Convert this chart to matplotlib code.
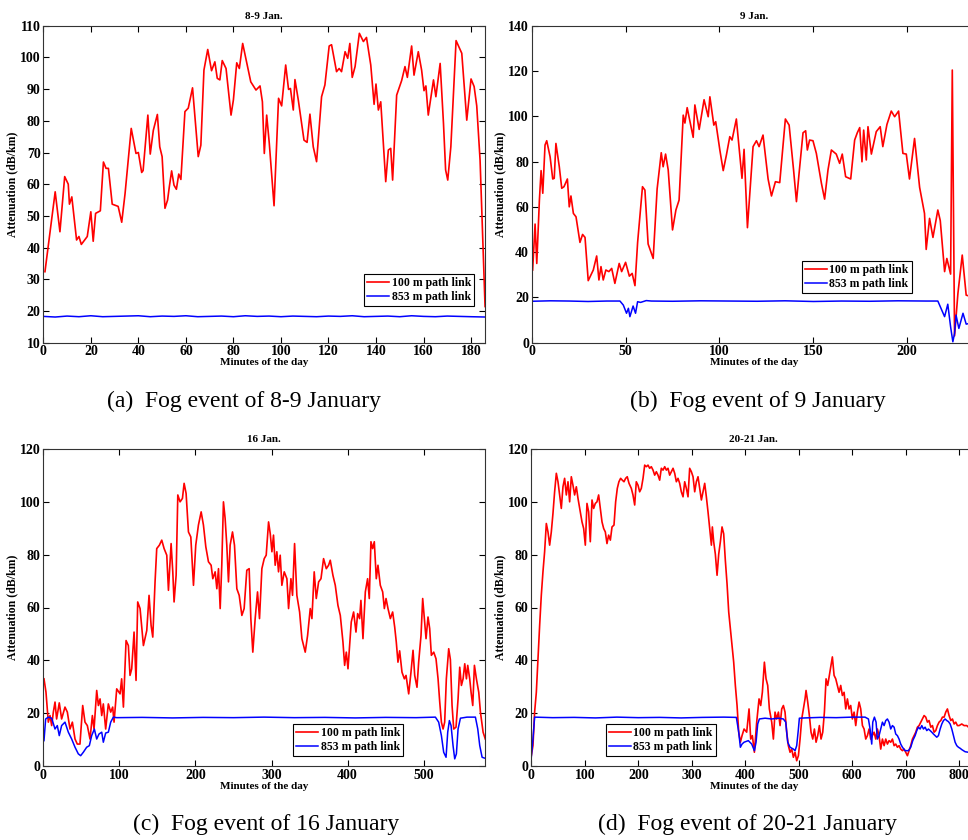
import matplotlib
matplotlib.use("Agg")
import matplotlib.pyplot as plt

# ---- (a) 8-9 Jan. ----
ta_100 = [0.7, 5, 7, 9, 10.5, 11, 12, 14, 15, 16, 18.5, 20, 21, 22, 24, 25.3, 26.4, 27.4, 29, 31.5,
          33, 34.4, 37, 39, 40, 41.4, 42, 44, 45, 46.3, 48, 49, 50, 51.2, 52.3, 53, 54, 55, 56, 57,
          57.9, 59.6, 61, 62.8, 65.2, 66.3, 67.6, 69.2, 70.8, 72.2, 73.2, 74.3, 75.3, 76.9, 79, 80,
          81.4, 82.5, 83.9, 87.3, 89.5, 91.2, 92.2, 93, 94, 95.1, 97.1, 99, 100.3, 102, 103.2, 104,
          105.2, 105.9, 107.3, 109.7, 111, 112.2, 113.6, 115, 117.1, 118.5, 120.3, 121.3, 123.4,
          124.5, 125.5, 127, 128.1, 129, 130, 131.2, 133, 134.7, 136, 137.8, 139.2, 140, 141, 142,
          144.1, 145.2, 146.2, 147, 148.7, 150.8, 152.2, 153.2, 155, 156, 157.8, 159.2, 160.2, 161,
          162, 164.2, 165.2, 167, 168.4, 169.3, 170.2, 171.5, 173.7, 176.1, 178.2, 180, 181.3,
          182.4, 183.8, 185.9]
ya_100 = [32.4, 57.6, 45, 62.4, 60, 53.7, 56, 42.4, 43.5, 41, 43.5, 51.3, 42, 50.8, 51.6, 67, 65, 65,
          53.7, 53, 48, 57, 77.6, 69.7, 70, 63.7, 64.3, 81.8, 69.5, 77, 82, 71.8, 68.7, 52.4, 55, 59,
          64.2, 59.7, 58.4, 63.2, 61.5, 82.9, 84, 90.4, 68.7, 72.3, 96, 102.5, 95.8, 98.6, 93.4,
          92.9, 99, 96.5, 81.8, 86.6, 98.3, 96.5, 104.4, 92.3, 89.7, 91, 86, 69.7, 81.8, 72.9, 53.2,
          87.1, 84.7, 97.6, 89.9, 90.2, 83.4, 93, 86.6, 73.9, 73.2, 82.1, 71.8, 67.1, 87.6, 91.3,
          103.6, 104, 95.5, 96.5, 95.5, 101.8, 99.7, 104.4, 93.7, 97.1, 107.6, 105, 106.3, 97.6,
          85.2, 91.6, 83.4, 86, 60.8, 70.8, 71.3, 61.3, 88.1, 92.7, 97.1, 93.7, 103.6, 94.4, 101.8,
          96, 89.5, 91, 81.8, 92.9, 87.6, 98.1, 79.2, 64.5, 61.3, 71.8, 105.3, 101.3, 80.2, 93.2,
          90.8, 84.7, 67.6, 21.4]
ta_853 = [0, 5, 10, 15, 20, 25, 30, 35, 40, 45, 50, 55, 60, 65, 70, 75, 80, 85, 90, 95, 100, 105,
          110, 115, 120, 125, 130, 135, 140, 145, 150, 155, 160, 165, 170, 175, 180, 186]
ya_853 = [18.3, 18.1, 18.4, 18.2, 18.5, 18.2, 18.3, 18.4, 18.5, 18.2, 18.4, 18.3, 18.5, 18.2,
          18.3, 18.4, 18.2, 18.5, 18.3, 18.4, 18.2, 18.4, 18.3, 18.2, 18.4, 18.3, 18.5, 18.2,
          18.3, 18.4, 18.2, 18.5, 18.3, 18.2, 18.4, 18.3, 18.2, 18.1]

# ---- (b) 9 Jan. ----
tb_100 = [0.5, 1.8, 2.7, 4.1, 5, 5.9, 7.1, 8, 9.8, 11.2, 12, 12.9, 14.7, 16, 17.2, 19, 20, 20.9,
          22.2, 23.6, 25.7, 27.1, 28.4, 30.1, 32.8, 34.6, 35.8, 36.9, 38.1, 39.5, 41.1, 42.6,
          44.3, 46.6, 47.9, 50, 52, 53.5, 55, 56.4, 59, 60.3, 62, 64.7, 66.8, 69, 70, 71.3, 72.7,
          75, 76.8, 78.5, 80.7, 81.6, 82.8, 86, 86.9, 89.2, 91.8, 94, 94.9, 97, 98, 100.2, 102,
          103.7, 105.5, 106.7, 109, 112, 113.1, 114.9, 117.9, 119.7, 121.1, 123.2, 125.9, 127.7,
          129.8, 132.1, 135.1, 137.1, 139.5, 141, 142.4, 144.5, 145.9, 146.8, 148, 149.8, 151.6,
          154.3, 156, 157.8, 159.6, 162.2, 164, 165.4, 167.2, 169.9, 172, 173.4, 174.7, 175.9,
          176.8, 178.2, 179.1, 180.9, 183.5, 185.6, 187, 189.2, 191.5, 193.3, 195.4, 197.7, 199.5,
          201.2, 203.9, 206.6, 209.2, 210.1, 211.9, 213.7, 216.3, 217.6, 219.9, 221.1, 223.1, 224,
          225.2, 227, 229.3, 231.4, 233]
yb_100 = [32.1, 52.4, 35, 63, 76, 66, 87.3, 89.2, 82.1, 72.3, 72.6, 88, 77.7, 68.2, 68.9, 72.3,
          60, 64.8, 57.1, 55.6, 44.3, 47.8, 46.5, 27.4, 32.1, 38.3, 27.7, 33.6, 27.7, 32.1, 31.4,
          32.8, 26.2, 35, 31.4, 35.5, 29.4, 30.6, 25.2, 44.2, 68.9, 67.4, 43.6, 37.2, 67.9, 83.9,
          77.7, 83.3, 76.3, 49.8, 58.6, 63, 100.5, 97, 103.8, 90.7, 105, 94.2, 107.3, 99.8, 108.6,
          96.1, 97.6, 85.1, 76, 82.9, 91, 89.5, 98.8, 72.6, 85.4, 50.8, 86.6, 89.2, 86.6, 91.7,
          72.3, 64.8, 71.1, 70.7, 98.8, 96.1, 76, 62.3, 74.8, 92.7, 93.6, 85.1, 89.5, 89.2, 83.6,
          70.4, 63.4, 76.3, 85.1, 83.3, 79.2, 83.3, 73.3, 72.3, 89.5, 92.7, 95, 79.9, 93.9, 80.7,
          95.4, 83.3, 93.2, 95.4, 86.6, 96.4, 102.3, 99.8, 102.3, 83.6, 83.3, 72.3, 90.2, 68.6,
          57.1, 41.2, 54.9, 46.5, 58.6, 53.9, 31.4, 37.2, 30.3, 120.4, 3, 21.8, 38.7, 21, 20.6]
tb_853 = [0, 10, 20, 30, 40, 47, 48.8, 50.5, 51.5, 52.3, 54, 55.3, 56.4, 58, 61, 63.7, 75, 90,
          105, 120, 135, 150, 165, 180, 195, 210, 216.3, 219.9, 221.6, 223.1, 224.3, 225.2, 226,
          227.5, 229.7, 231.4, 233]
yb_853 = [18.3, 18.5, 18.4, 18.2, 18.4, 18.4, 16.6, 13, 15.2, 11.5, 16.2, 13, 18.1, 17.8, 18.6,
          18.4, 18.3, 18.5, 18.4, 18.3, 18.5, 18.2, 18.4, 18.3, 18.5, 18.4, 18.4, 11.5, 17, 7, 0.4,
          4.1, 12.2, 6.3, 13, 8.2, 8.5]

# ---- (c) 16 Jan. ----
tc_100 = [0.9, 3.5, 6.6, 8.8, 11, 13.2, 15.4, 17.5, 21, 24.1, 28.5, 31.6, 35.1, 38.2, 41.7, 44.7,
          48.2, 51.8, 54.8, 57.9, 61.4, 64.5, 66.7, 70.2, 72.4, 74.6, 76.8, 78.9, 82, 85.5, 88.6,
          91.2, 93, 96.5, 100.9, 103, 105.3, 108.8, 111.8, 114, 116.2, 119.3, 121.9, 124.1, 127.2,
          131.6, 136, 139, 141.7, 143.9, 146.9, 149.1, 152.6, 155.7, 158.8, 162.3, 164.5, 168,
          170.2, 171.9, 174.6, 176.8, 179.8, 182.9, 185.1, 187.7, 190.8, 193.9, 197.4, 200.4,
          203.9, 207.5, 210.5, 213.6, 217.1, 220.6, 222.8, 225.9, 228.1, 230.3, 232.5, 234.6,
          236.8, 239, 241.2, 243.4, 245.6, 248.7, 251.3, 254.4, 257.5, 261, 264, 267.5, 270.6,
          272.8, 275.4, 278.5, 281.6, 284.2, 287.3, 290.4, 293, 296.1, 298.3, 300.5, 302.6, 304.8,
          307, 309.2, 311.4, 313.6, 316.7, 320.2, 322.4, 325.5, 327.6, 330.3, 333.3, 336.9, 339.9,
          344.3, 347.4, 350.9, 353.1, 356.1, 358.8, 361.9, 365, 368.4, 372, 375, 377.2, 380.7,
          383.8, 387.3, 390.4, 393.9, 396.1, 398.3, 400.5, 402.6, 404.8, 407.9, 411, 413.2, 415.8,
          417.5, 420.2, 423.3, 426.3, 428.5, 430.7, 432.9, 435.1, 437.7, 439.9, 443, 446.1, 448.3,
          450.5, 453.1, 456.2, 459.2, 461.9, 464, 466.2, 468.4, 471.5, 474.6, 476.8, 480.3, 483.3,
          486, 488.2, 491.2, 493.4, 496.5, 498.7, 500.9, 503.1, 505.7, 507.9, 510.1, 513.2, 516.2,
          518.9, 521.1, 523.3, 525.5, 527.6, 529.8, 532.9, 535.1, 537.3, 539.5, 542.5, 545.2,
          547.4, 549.6, 551.8, 554, 556.2, 557.9, 560.5, 562.3, 564.5, 566.7, 569.3, 572.4, 574.6,
          578.1, 581]
yc_100 = [33, 28, 16.6, 19.1, 15.3, 20.4, 24.2, 17.8, 23.9, 17.8, 22.3, 20.4, 14, 16.6, 10.2, 8.3,
          8.3, 22.9, 16.6, 15.3, 10.2, 19.1, 14, 28.6, 22.9, 25.4, 19.1, 23.5, 14, 23.5, 20.4, 22.3,
          16.6, 29.2, 27.3, 33, 22.3, 47.5, 45.6, 34.3, 36.8, 50.7, 32.4, 62.1, 59.6, 45.6, 51.3,
          64.6, 53.2, 48.8, 69.7, 82.3, 83.6, 85.5, 82.3, 79.8, 66.5, 84.2, 73.5, 62.1, 72.2, 102.6,
          100, 101.3, 107, 103.2, 88.6, 86.7, 68.4, 83.6, 91.2, 96.2, 91.2, 83, 77.3, 76, 70.9, 73.5,
          67.1, 74.7, 59.6, 76, 100, 93.7, 83.6, 69.7, 83.6, 88.6, 83.6, 67.1, 64.6, 57, 59.6, 74.1,
          74.7, 55.8, 43.1, 55.8, 65.9, 55.8, 74.7, 78.5, 79.8, 92.4, 88, 81.1, 87.4, 76, 81.1,
          73.5, 79.8, 68.4, 73.5, 70.9, 59.6, 70.9, 64.6, 84.2, 64.6, 58.3, 48.2, 43.1, 49.4, 59.6,
          55.8, 73.5, 63.4, 69.7, 70.9, 78.5, 74.7, 76, 77.9, 72.2, 68.4, 60.8, 57, 46.9, 38.1,
          43.1, 36.8, 45.6, 54.5, 58.3, 50.7, 57.7, 55.8, 62.7, 48.2, 65.9, 70.9, 63.4, 84.9, 82.3,
          84.9, 70.9, 76, 68.4, 65.9, 59.6, 63.4, 59.6, 55.8, 58.3, 52.6, 46.9, 39.3, 43.6, 35.5, 33,
          34.3, 27.3, 35.5, 43.8, 34.3, 29.8, 39.3, 49.4, 63.4, 55.8, 48.2, 56.4, 52, 41.9, 43.1,
          40.6, 33, 24.2, 16.6, 14, 16.6, 33, 44.4, 40.3, 22.9, 14, 14.7, 25.4, 37.4, 30.5, 33,
          38.7, 33, 38.1, 33, 27.9, 22.9, 38.1, 33, 27.9, 20.4, 12.8, 10.2]
tc_853 = [0.9, 3.1, 6.6, 11, 15.4, 18.4, 21, 24.1, 28.5, 32.9, 37.3, 41.7, 46, 49.1, 52.6, 57, 60.5,
          63.6, 67.1, 70.2, 73.2, 76.8, 78.9, 82, 85.5, 88.6, 92.1, 96.5, 130, 170, 210, 250, 290,
          330, 370, 410, 450, 490, 515.4, 519.7, 523.3, 526.3, 529.4, 531.6, 533.8, 536, 538.6,
          540.8, 543, 545.2, 548.3, 557, 568, 571.1, 573.7, 576.8, 581]
yc_853 = [9.6, 17.8, 18.5, 18.1, 14, 15.3, 11.5, 15.3, 16.6, 12.8, 10.2, 7.1, 4.6, 3.9, 5.2, 7.1,
          7.7, 11.5, 14, 10.2, 12.1, 12.8, 9, 12.5, 12.8, 16.6, 18.5, 18.3, 18.4, 18.2, 18.4, 18.3,
          18.5, 18.3, 18.4, 18.2, 18.4, 18.3, 18.5, 16.6, 11.5, 5.2, 3.3, 12.8, 17.2, 15.3, 7.7,
          2.7, 4.6, 14, 18.1, 18.5, 18.5, 14, 7.7, 3.3, 2.9]

# ---- (d) 20-21 Jan. ----
td_100 = [0, 3.1, 6.2, 9.4, 12.5, 15.6, 18.7, 21.8, 24.9, 28.1, 31.2, 34.3, 37.4, 40.5, 43.6, 46.8,
          49.9, 53, 56.1, 59.2, 62.3, 65.5, 68.6, 71.7, 74.8, 77.9, 81, 84.2, 87.3, 91.6, 94.8, 97.9,
          101, 104.1, 107.2, 110.3, 113.5, 116.6, 119.7, 122.8, 125.9, 129, 132.2, 135.3, 138.4,
          141.5, 144.6, 147.8, 150.9, 154.6, 157.7, 160.8, 163.8, 167, 170.2, 173.3, 176.4, 179.4,
          182.7, 187, 190.1, 193.3, 196.3, 199.5, 202.6, 205.7, 208.9, 212, 215.1, 218.2, 221.3,
          224.4, 227.6, 230.7, 233.8, 236.9, 240, 243.1, 246.3, 249.4, 252.5, 255.6, 258.7, 261.8,
          265, 268.1, 271.2, 274.3, 277.4, 280.5, 283.7, 286.8, 289.9, 293, 296.1, 299.3, 302.4,
          305.5, 308.6, 311.7, 314.8, 318, 321.1, 324.2, 327.3, 330.4, 333.5, 336.7, 338.5, 341,
          344.1, 347.3, 350.4, 353.5, 356.6, 359.7, 362.8, 366, 369.1, 372.2, 375.3, 378.4, 381.5,
          384.7, 387.8, 390.9, 394, 397.8, 402.7, 407.1, 410.2, 413.3, 417.1, 421.4, 425.8, 428.9,
          432, 435.8, 438.9, 442, 445.1, 449.5, 452.6, 455.7, 458.8, 462, 465.1, 468.2, 471.3,
          474.4, 477.5, 480.6, 483.8, 486.9, 490, 493.1, 496.2, 499.4, 502.5, 505.6, 508.7, 511.8,
          513.7, 516.8, 519.9, 523, 526.2, 529.3, 532.4, 535.5, 538.6, 541.7, 544.9, 548, 551.1,
          554.2, 557.3, 560.4, 562.9, 566.1, 569.2, 572.3, 575.4, 578.5, 581.6, 584.8, 587.9, 591,
          594.1, 597.2, 600.3, 603.5, 606.6, 609.7, 612.8, 615.9, 619.1, 622.2, 625.3, 628.4,
          631.5, 634.6, 637.8, 640.9, 644, 647.1, 650.2, 653.3, 656.5, 659.6, 662.7, 665.8, 668.9,
          672, 675.2, 678.3, 681.4, 684.5, 687.6, 690.7, 693.9, 697, 700.1, 703.2, 706.3, 709.4,
          712.6, 715.7, 718.8, 721.9, 725, 728.2, 731.3, 734.4, 737.5, 740.6, 743.7, 746.9, 750,
          753.1, 756.2, 759.3, 762.4, 765.6, 768.7, 771.8, 774.9, 778, 781.1, 784.3, 787.4, 790.5,
          793.6, 796.7, 799.8, 804.8, 809.2, 814.2, 817.3, 827]
yd_100 = [3.9, 7.7, 20.4, 27.9, 40.6, 53.2, 64.6, 73.5, 81.1, 91.8, 88.6, 83.6, 88.6, 95.6, 103.8,
          110.8, 107.6, 102.6, 97.5, 105.7, 108.9, 102.6, 107.6, 100, 109.5, 106.3, 102.6, 105.7,
          101.3, 96.2, 92.4, 89.9, 83.6, 99.4, 96.2, 84.9, 100.7, 97.5, 99.4, 100, 102.6, 97.5, 92.4,
          89.9, 88.6, 84.2, 87.4, 85.5, 90.5, 91.2, 100, 105.1, 107.6, 108.9, 108.2, 107.6, 108.9,
          109.5, 107, 105.1, 102.6, 98.8, 107.6, 106.3, 103.8, 105.1, 108.9, 113.9, 113.3, 113.9,
          112.7, 113.3, 112, 110.1, 111.4, 110.1, 108.2, 112.7, 112, 113.3, 112, 112.7, 110.1, 111.4,
          112.7, 110.8, 107.6, 108.9, 107, 103.8, 101.9, 107.6, 105.1, 101.9, 112.7, 111.4, 109.5,
          103.8, 107.6, 109.5, 105.1, 100.7, 103.8, 107, 101.9, 96.2, 89.9, 83.6, 90.5, 84.9, 80.2,
          72.2, 80.2, 84.9, 90.5, 87.9, 77.8, 68.9, 58.3, 52, 45.6, 39.3, 30.5, 22.9, 12.8, 9, 11.5,
          14, 12.8, 21.6, 10.2, 11.5, 5.2, 16.6, 25.4, 22.9, 27.9, 39.3, 33, 30.5, 21.6, 16.6, 10.2,
          20.4, 17.8, 20.4, 15.3, 21.6, 22.9, 20.4, 12.8, 7.7, 5.2, 6.4, 3.3, 5.2, 2, 3.9, 10.2, 17.8,
          21.6, 25.4, 28.6, 24.2, 19.1, 12.8, 10.2, 14, 9, 11.5, 15.3, 10.2, 12.8, 20.4, 33, 30.5,
          34.3, 38.1, 41.3, 34.3, 33, 30.5, 27.9, 30.5, 26.7, 27.9, 21.6, 25.4, 21.6, 22.9, 17.8,
          20.4, 15.3, 20.4, 24.2, 21.6, 15.3, 14, 10.2, 11.5, 14, 10.2, 11.5, 12.8, 10.2, 14, 11.5,
          6.4, 10.2, 7.7, 10.2, 8.3, 9.6, 9, 10.2, 7.7, 8.3, 7.1, 7.7, 6.4, 5.8, 6.4, 5.2, 3.9, 5.8,
          7.7, 10.2, 11.5, 12.8, 14.7, 15.3, 16.6, 17.8, 19.1, 18.5, 16.6, 17.2, 14.7, 15.3, 12.8,
          13.4, 15.3, 16.6, 17.2, 18.5, 18.5, 20.4, 21.6, 19.1, 17.2, 17.8, 15.9, 16.6, 15.3, 15.3,
          15.9, 15.3, 15.3, 14.7, 15.2]
td_853 = [0, 3.1, 6.2, 40, 80, 120, 160, 200, 240, 280, 320, 360, 383.4, 387.8, 390.9, 394, 397.8,
          405.8, 412.1, 417.1, 420.2, 423.3, 426.4, 437, 449.5, 462, 471.3, 475.7, 479.4, 483.8,
          490, 493.1, 496.2, 499.4, 501.2, 511.8, 540, 570, 600, 624, 630.3, 633.4, 636.5, 638.4,
          641.5, 644.6, 647.1, 650.2, 653.3, 656.5, 659.6, 662.7, 665.8, 668.9, 672, 675.2, 678.3,
          681.4, 684.5, 687.6, 690.7, 693.9, 698.9, 705.1, 709.4, 713.2, 717.6, 720.7, 723.8, 727,
          730.1, 733.2, 736.3, 739.4, 742.5, 745.7, 748.8, 751.9, 755, 758.1, 761.2, 764.4, 767.5,
          770.6, 773.7, 776.8, 779.9, 783.1, 786.2, 789.3, 792.4, 795.5, 798.6, 801.8, 804.9,
          811.1, 817.3, 827]
yd_853 = [3.3, 10.2, 18.5, 18.3, 18.4, 18.2, 18.5, 18.3, 18.4, 18.2, 18.4, 18.5, 18.4, 12.8, 7.1,
          8.3, 9, 9.6, 8.3, 5.8, 9, 15.9, 17.8, 18.1, 17.8, 18.1, 17.8, 16.6, 9, 7.1, 6.4, 5.8, 7.7,
          14, 18.1, 18.2, 18.4, 18.3, 18.5, 18.5, 17.8, 14, 8.3, 16.6, 18.5, 16.6, 10.2, 11.5, 14,
          16.6, 15.3, 17.2, 17.8, 16.6, 14, 15.3, 14.7, 12.1, 11.5, 10.2, 8.3, 7.1, 5.8, 5.8, 7.1,
          9.6, 11.5, 13.4, 14.7, 14, 15.3, 14, 14.7, 13.4, 14, 13.4, 12.8, 12.1, 11.5, 10.9, 11.5,
          14, 15.9, 17.2, 17.8, 17.2, 16.8, 15.9, 14, 11.5, 9, 7.7, 7.1, 6.7, 6.2, 5.4, 5.2, 4.8]

titles = ["8-9 Jan.", "9 Jan.", "16 Jan.", "20-21 Jan."]
captions = ["(a)  Fog event of 8-9 January", "(b)  Fog event of 9 January",
            "(c)  Fog event of 16 January", "(d)  Fog event of 20-21 January"]
xlims = [186, 237, 581, 832]
ylims = [(10, 110), (0, 140), (0, 120), (0, 120)]
yticks = [range(10, 111, 10), range(0, 141, 20), range(0, 121, 20), range(0, 121, 20)]
xticks = [range(0, 181, 20), range(0, 201, 50), range(0, 501, 100), range(0, 801, 100)]

series = [(ta_100, ya_100, ta_853, ya_853), (tb_100, yb_100, tb_853, yb_853),
          (tc_100, yc_100, tc_853, yc_853), (td_100, yd_100, td_853, yd_853)]

W, H = 968, 840
# axes boxes in pixels: left, top, width (right column runs past the page edge)
boxes = [(43.3, 25.7, 442), (531.7, 25.7, 445), (43.3, 449, 442), (531.3, 449, 445)]
ax_h = 317
# legend upper-left corners in pixels
leg_pos = [(364, 274), (801.7, 260.7), (293, 724), (605.7, 724)]
cap_pos = [(244, 401), (758, 401), (266, 824), (747, 824)]

serif = ["Liberation Serif", "DejaVu Serif"]
plt.rcParams["font.family"] = serif
plt.rcParams["font.weight"] = "bold"

fig = plt.figure(figsize=(W / 100, H / 100), dpi=100)

for i in range(4):
    l, t, w = boxes[i]
    ax = fig.add_axes([l / W, 1 - (t + ax_h) / H, w / W, ax_h / H])
    x1, y1, x2, y2 = series[i]
    ax.plot(x1, y1, color="#ff0000", lw=1.2, label="100 m path link")
    ax.plot(x2, y2, color="#0000ff", lw=1.1, label="853 m path link")
    ax.set_xlim(0, xlims[i])
    ax.set_ylim(*ylims[i])
    ax.set_xticks(list(xticks[i]))
    ax.set_yticks(list(yticks[i]))
    ax.tick_params(direction="in", top=True, right=True, length=4, width=0.8,
                   labelsize=10, pad=2)
    for lab in ax.get_xticklabels() + ax.get_yticklabels():
        lab.set_fontweight("bold")
    for s in ax.spines.values():
        s.set_linewidth(0.8)
        s.set_color("#333333")
    ax.set_title(titles[i], fontsize=8, fontweight="bold", pad=5)
    ax.set_xlabel("Minutes of the day", fontsize=8, fontweight="bold", labelpad=0)
    ax.set_ylabel("Attenuation (dB/km)", fontsize=8.5, fontweight="bold", labelpad=1)
    lx, ly = leg_pos[i]
    leg = ax.legend(loc="upper left", bbox_to_anchor=(lx / W, 1 - ly / H),
                    bbox_transform=fig.transFigure, fancybox=False, framealpha=1,
                    edgecolor="black", fontsize=8.5, handlelength=1.9, handletextpad=0.2,
                    borderpad=0.25, labelspacing=0.2, borderaxespad=0)
    leg.get_frame().set_linewidth(0.8)
    for txt in leg.get_texts():
        txt.set_fontweight("bold")

    cx, cy = cap_pos[i]
    fig.text(cx / W, 1 - cy / H, captions[i], ha="center", va="center",
             fontsize=17, fontweight="normal", family=serif)

fig.savefig("out.png", dpi=100)
